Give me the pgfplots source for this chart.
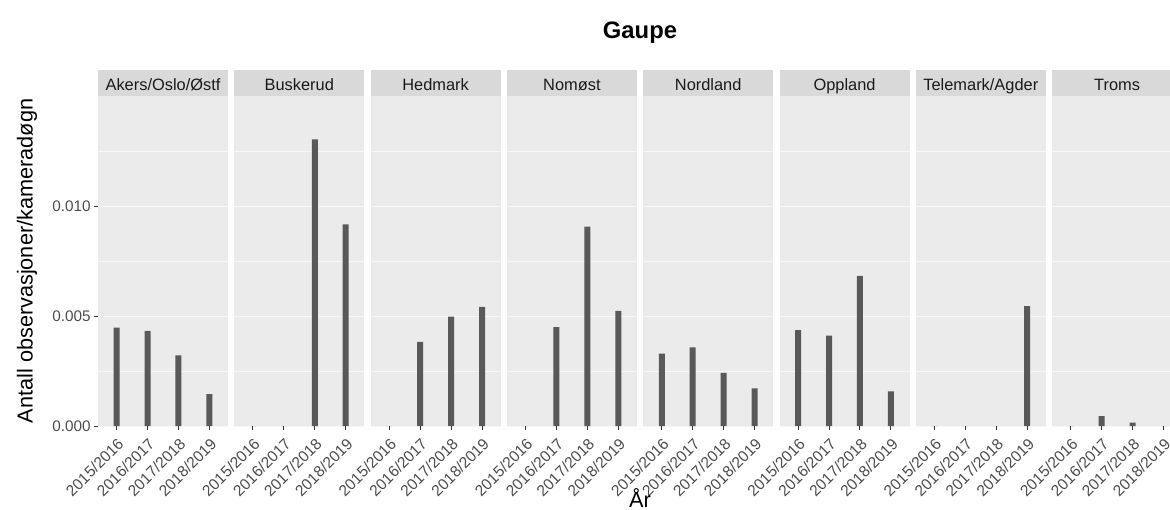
\documentclass[border=0pt]{standalone}
\usepackage{fontspec}
\setmainfont{Liberation Sans}
\usepackage{pgfplots}
\usepackage{pgfplotstable}
\pgfplotsset{compat=1.18}
\definecolor{panelbg}{HTML}{EBEBEB}
\definecolor{stripbg}{HTML}{D9D9D9}
\definecolor{barcol}{HTML}{595959}
\definecolor{ticktext}{HTML}{4D4D4D}
\definecolor{tickcol}{HTML}{333333}
\definecolor{striptext}{HTML}{1A1A1A}
\definecolor{gridcol}{HTML}{F7F7F7}

\pgfplotstableread{
x akers busk hedm nomo nordl oppl tele troms
1 0.00447 0       0       0       0.00329 0.00436 0       0
2 0.00433 0       0.00383 0.00450 0.00358 0.00411 0       0.00045
3 0.00321 0.01303 0.00497 0.00906 0.00242 0.00683 0       0.00015
4 0.00145 0.00917 0.00542 0.00523 0.00171 0.00158 0.00545 0
}\data

\pgfplotsset{
  panel/.style={
    scale only axis, width=65pt, height=165pt, anchor=south west,
    xmin=0.4, xmax=4.6, ymin=0, ymax=0.015,
    clip=false,
    axis background/.style={fill=panelbg},
    axis line style={draw=none},
    xtick={1,2,3,4},
    xticklabels={2015/2016,2016/2017,2017/2018,2018/2019},
    xticklabel pos=left,
    ytick={0,0.005,0.010},
    yticklabels={0.000,0.005,0.010},
    minor ytick={0.0025,0.0075,0.0125},
    ymajorgrids, yminorgrids,
    major grid style={gridcol, line width=0.5pt},
    minor grid style={gridcol, line width=0.3pt},
    xtick pos=left, ytick pos=left, tick align=outside,
    major tick length=2pt, minor tick length=0pt,
    tick style={tickcol, line width=0.5pt},
    xticklabel style={yshift=-1.2pt, rotate=45, anchor=north east, font=\fontsize{7.8}{8}\selectfont, text=ticktext, inner sep=1.5pt},
    yticklabel style={font=\fontsize{7.65}{8}\selectfont, text=ticktext, inner sep=1.5pt},
  },
  noy/.style={yticklabels={}, ytick style={draw=none}},
}

\newcommand{\panel}[4]{%
\begin{axis}[panel, at={(#1,-213pt)}, #4]
\addplot[ybar, bar width=3pt, fill=barcol, draw=none] table[x=x, y=#2]{\data};
\node[anchor=south, fill=stripbg, minimum width=65pt, inner sep=0pt, outer sep=0pt,
  text height=10pt, text depth=3pt, text=striptext, font=\fontsize{8.2}{9}\selectfont]
  at (rel axis cs:0.5,1) {#3};
\end{axis}}

\begin{document}
\begin{tikzpicture}
\useasboundingbox (0,-254.5pt) rectangle (585pt,0pt);
\panel{49pt}{akers}{Akers/Oslo/Østf}{}
\panel{117.15pt}{busk}{Buskerud}{noy}
\panel{185.3pt}{hedm}{Hedmark}{noy}
\panel{253.45pt}{nomo}{Nomøst}{noy}
\panel{321.6pt}{nordl}{Nordland}{noy}
\panel{389.75pt}{oppl}{Oppland}{noy}
\panel{457.9pt}{tele}{Telemark/Agder}{noy}
\panel{526.05pt}{troms}{Troms}{noy}
\node[font=\bfseries\fontsize{11.9}{13}\selectfont, anchor=center] at (320pt,-16.5pt) {Gaupe};
\node[font=\fontsize{10.85}{12}\selectfont, rotate=90, anchor=center] at (13.5pt,-130.5pt) {Antall observasjoner/kameradøgn};
\node[font=\fontsize{10.85}{12}\selectfont, anchor=base] at (320pt,-253.5pt) {År};
\end{tikzpicture}
\end{document}
